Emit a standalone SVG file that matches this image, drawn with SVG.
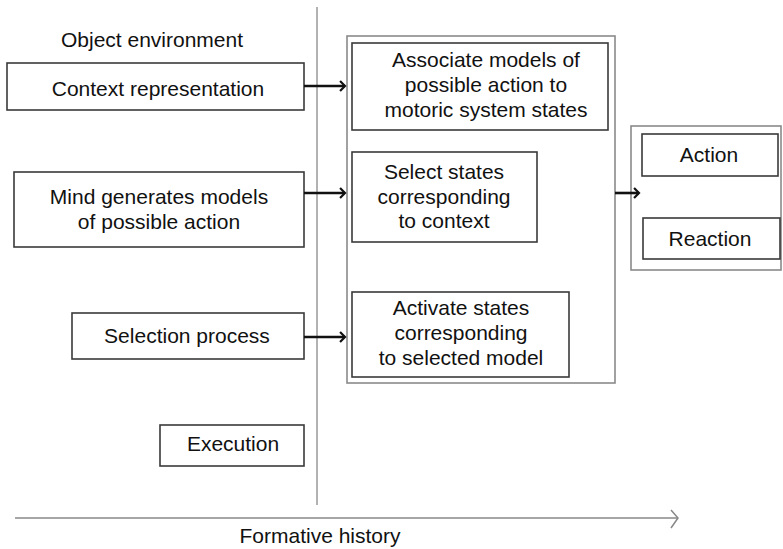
<svg xmlns="http://www.w3.org/2000/svg" width="783" height="549" viewBox="0 0 783 549">
<style>
text{font-family:"Liberation Sans",Arial,sans-serif;font-size:21px;fill:#111;text-anchor:middle}
.box{fill:#fff;stroke:#3a3a3a;stroke-width:1.6}
.cont{fill:none;stroke:#8a8a8a;stroke-width:1.6}
.arr{stroke:#111;stroke-width:2.6;fill:none;marker-end:url(#ah)}
</style>
<defs>
<marker id="ah" viewBox="0 0 10 12" refX="8" refY="6" markerWidth="3.8" markerHeight="4.6" orient="auto" markerUnits="strokeWidth">
<path d="M3,1 L8,6 L3,11" fill="none" stroke="#111" stroke-width="2.2"/>
</marker>
</defs>
<g id="axes">
<line x1="317" y1="7" x2="317" y2="505" stroke="#999" stroke-width="1.5"/>
<line x1="15" y1="518" x2="677" y2="518" stroke="#888" stroke-width="1.5"/>
<path d="M671,510 L678,518 L671,528" fill="none" stroke="#888" stroke-width="1.5"/>
<text x="320" y="543">Formative history</text>
<text x="152" y="47">Object environment</text>
</g>
<g id="container-mid"><rect class="cont" x="347" y="36" width="268" height="347"/></g>
<g id="container-right"><rect class="cont" x="631" y="126" width="150" height="144"/></g>
<g id="context"><rect class="box" x="7" y="63" width="297" height="47"/><text x="158" y="96">Context representation</text></g>
<g id="mind"><rect class="box" x="14" y="172" width="290" height="75"/><text x="159" y="204">Mind generates models</text><text x="159" y="229">of possible action</text></g>
<g id="selection"><rect class="box" x="72" y="313" width="232" height="46"/><text x="187" y="343">Selection process</text></g>
<g id="execution"><rect class="box" x="160" y="425" width="144" height="41"/><text x="233" y="451">Execution</text></g>
<g id="associate"><rect class="box" x="352" y="43" width="256" height="87"/><text x="486" y="67">Associate models of</text><text x="486" y="92">possible action to</text><text x="486" y="117">motoric system states</text></g>
<g id="select"><rect class="box" x="352" y="152" width="185" height="90"/><text x="444" y="179">Select states</text><text x="444" y="204">corresponding</text><text x="444" y="228">to context</text></g>
<g id="activate"><rect class="box" x="352" y="292" width="217" height="85"/><text x="461" y="315">Activate states</text><text x="461" y="340">corresponding</text><text x="461" y="365">to selected model</text></g>
<g id="action"><rect class="box" x="642" y="134" width="136" height="42"/><text x="709" y="162">Action</text></g>
<g id="reaction"><rect class="box" x="643" y="218" width="137" height="41"/><text x="710" y="246">Reaction</text></g>
<g id="connectors">
<line class="arr" x1="304" y1="86" x2="345" y2="86"/>
<line class="arr" x1="304" y1="193" x2="345" y2="193"/>
<line class="arr" x1="304" y1="337" x2="345" y2="337"/>
<line class="arr" x1="615" y1="193" x2="639" y2="193"/>
</g>
</svg>
